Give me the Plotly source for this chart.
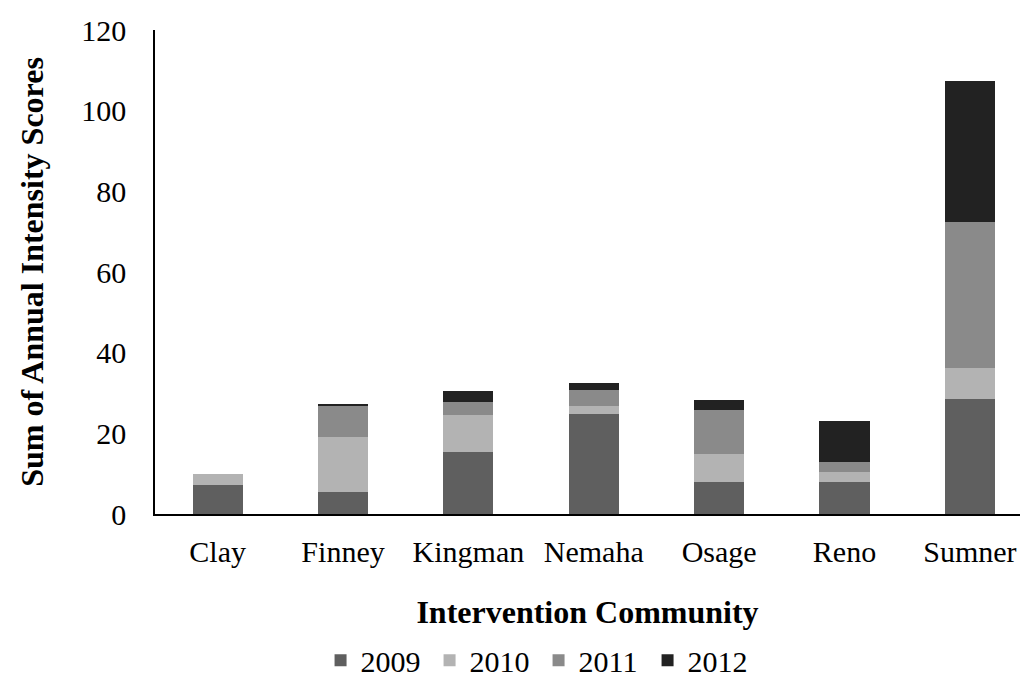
import plotly.graph_objects as go

# Communities and yearly intensity scores (stacked per community)
communities = ["Clay", "Finney", "Kingman", "Nemaha", "Osage", "Reno", "Sumner"]
years = ["2009", "2010", "2011", "2012"]
scores_2009 = [7.3, 5.5, 15.4, 24.8, 7.9, 7.9, 28.5]
scores_2010 = [2.5, 13.5, 9.1, 2.1, 7.0, 2.6, 7.7]
scores_2011 = [0.0, 7.8, 3.2, 3.8, 10.9, 2.3, 36.2]
scores_2012 = [0.0, 0.3, 2.9, 1.7, 2.4, 10.2, 35.0]
y_ticks = [0, 20, 40, 60, 80, 100, 120]

series = [scores_2009, scores_2010, scores_2011, scores_2012]
colors = ["#5f5f5f", "#b3b3b3", "#8a8a8a", "#222222"]

FONT = "Liberation Serif, Times New Roman, serif"

fig = go.Figure()
for year, vals, col in zip(years, series, colors):
    fig.add_trace(go.Bar(
        x=communities, y=vals, name=year,
        marker=dict(color=col, line=dict(width=0)),
    ))

fig.update_layout(
    barmode="stack",
    bargap=0.6,
    width=1020, height=682,
    margin=dict(l=155, r=0, t=30, b=168),
    paper_bgcolor="white",
    plot_bgcolor="white",
    font=dict(family=FONT, size=30, color="black"),
    showlegend=True,
    legend=dict(
        orientation="h",
        xref="container", yref="container",
        x=0.528, xanchor="center",
        y=0.032, yanchor="middle",
        entrywidth=64,
        font=dict(family=FONT, size=30, color="black"),
        traceorder="normal",
        itemclick=False,
    ),
    xaxis=dict(
        range=[-0.5, 6.4],
        showline=True, linecolor="black", linewidth=2,
        showgrid=False, ticks="",
        ticklabelstandoff=10,
        tickfont=dict(family=FONT, size=30, color="black"),
        title=dict(text="<b>Intervention Community</b>",
                   font=dict(family=FONT, size=32, color="black"),
                   standoff=34),
        automargin=False,
    ),
    yaxis=dict(
        range=[0, 120],
        tickvals=y_ticks,
        showline=True, linecolor="black", linewidth=1.5,
        showgrid=False, ticks="", zeroline=False,
        ticklabelstandoff=21,
        tickfont=dict(family=FONT, size=30, color="black"),
        title=dict(text="<b>Sum of Annual Intensity Scores</b>",
                   font=dict(family=FONT, size=32, color="black"),
                   standoff=28),
        automargin=False,
    ),
)

fig.write_html("out.html")
